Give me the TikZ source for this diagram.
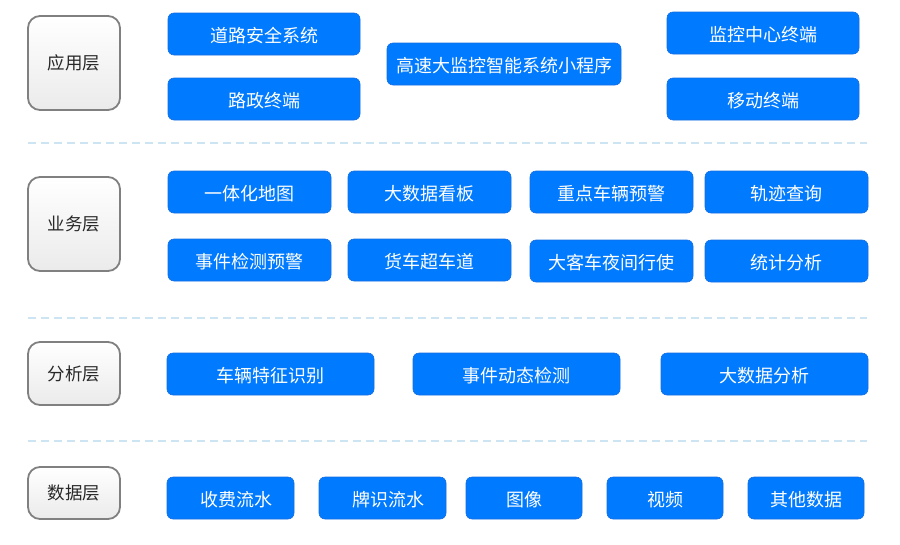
\documentclass[tikz,border=0pt]{standalone}
\usepackage{fontspec}
\setmainfont{Noto Sans CJK SC}
\usetikzlibrary{shadings}
\definecolor{boxblue}{RGB}{0,122,255}
\definecolor{boxedge}{RGB}{20,110,225}
\definecolor{dashblue}{RGB}{205,228,243}
\definecolor{layeredge}{RGB}{128,128,128}
\definecolor{layertext}{RGB}{40,40,40}
\tikzset{
  bluebox/.style={draw=boxedge, line width=0.6pt, fill=boxblue, rounded corners=6pt,
    text=white, font=\fontsize{18pt}{20pt}\selectfont, inner sep=0pt, minimum height=42pt,
    text height=17pt, text depth=0pt},
  layerbox/.style={draw=layeredge, line width=1.8pt, top color=white, bottom color=black!8,
    rounded corners=12pt, text=layertext, font=\fontsize{17.5pt}{20pt}\selectfont,
    inner sep=0pt, minimum width=92pt},
  sepline/.style={draw=dashblue, line width=2pt, dash pattern=on 8pt off 5pt}
}
\begin{document}
\begin{tikzpicture}[x=1pt,y=-1pt]
\useasboundingbox (0,0) rectangle (900,544);
% layer boxes
\node[layerbox, minimum height=94pt] (app) at (74,63) {应用层};
\node[layerbox, minimum height=94pt] (biz) at (74,224) {业务层};
\node[layerbox, minimum height=63pt] (ana) at (74,373.5) {分析层};
\node[layerbox, minimum height=52pt] (dat) at (74,493) {数据层};
% separators
\coordinate (s1a) at (28,143); \coordinate (s1b) at (867,143);
\coordinate (s2a) at (28,318); \coordinate (s2b) at (867,318);
\coordinate (s3a) at (28,441); \coordinate (s3b) at (867,441);
\draw[sepline] (s1a) -- (s1b);
\draw[sepline] (s2a) -- (s2b);
\draw[sepline] (s3a) -- (s3b);
% application layer
\node[bluebox, minimum width=192pt] (a1) at (264,34) {道路安全系统};
\node[bluebox, minimum width=192pt] (a2) at (264,99) {路政终端};
\node[bluebox, minimum width=234pt] (a3) at (504,64) {高速大监控智能系统小程序};
\node[bluebox, minimum width=192pt] (a4) at (763,33) {监控中心终端};
\node[bluebox, minimum width=192pt] (a5) at (763,99) {移动终端};
% business layer
\node[bluebox, minimum width=163pt] (b1) at (249.5,192) {一体化地图};
\node[bluebox, minimum width=163pt] (b2) at (429.5,192) {大数据看板};
\node[bluebox, minimum width=163pt] (b3) at (611.5,192) {重点车辆预警};
\node[bluebox, minimum width=163pt] (b4) at (786.5,192) {轨迹查询};
\node[bluebox, minimum width=163pt] (b5) at (249.5,260) {事件检测预警};
\node[bluebox, minimum width=163pt] (b6) at (429.5,260) {货车超车道};
\node[bluebox, minimum width=163pt] (b7) at (611.5,261) {大客车夜间行使};
\node[bluebox, minimum width=163pt] (b8) at (786.5,261) {统计分析};
% analysis layer
\node[bluebox, minimum width=207pt] (c1) at (270.5,374) {车辆特征识别};
\node[bluebox, minimum width=207pt] (c2) at (516.5,374) {事件动态检测};
\node[bluebox, minimum width=207pt] (c3) at (764.5,374) {大数据分析};
% data layer
\node[bluebox, minimum width=127pt] (d1) at (230.5,498) {\hspace*{12pt}收费流水};
\node[bluebox, minimum width=127pt] (d2) at (382.5,498) {\hspace*{12pt}牌识流水};
\node[bluebox, minimum width=116pt] (d3) at (524,498) {图像};
\node[bluebox, minimum width=116pt] (d4) at (665,498) {视频};
\node[bluebox, minimum width=116pt] (d5) at (806,498) {其他数据};
\end{tikzpicture}
\end{document}
